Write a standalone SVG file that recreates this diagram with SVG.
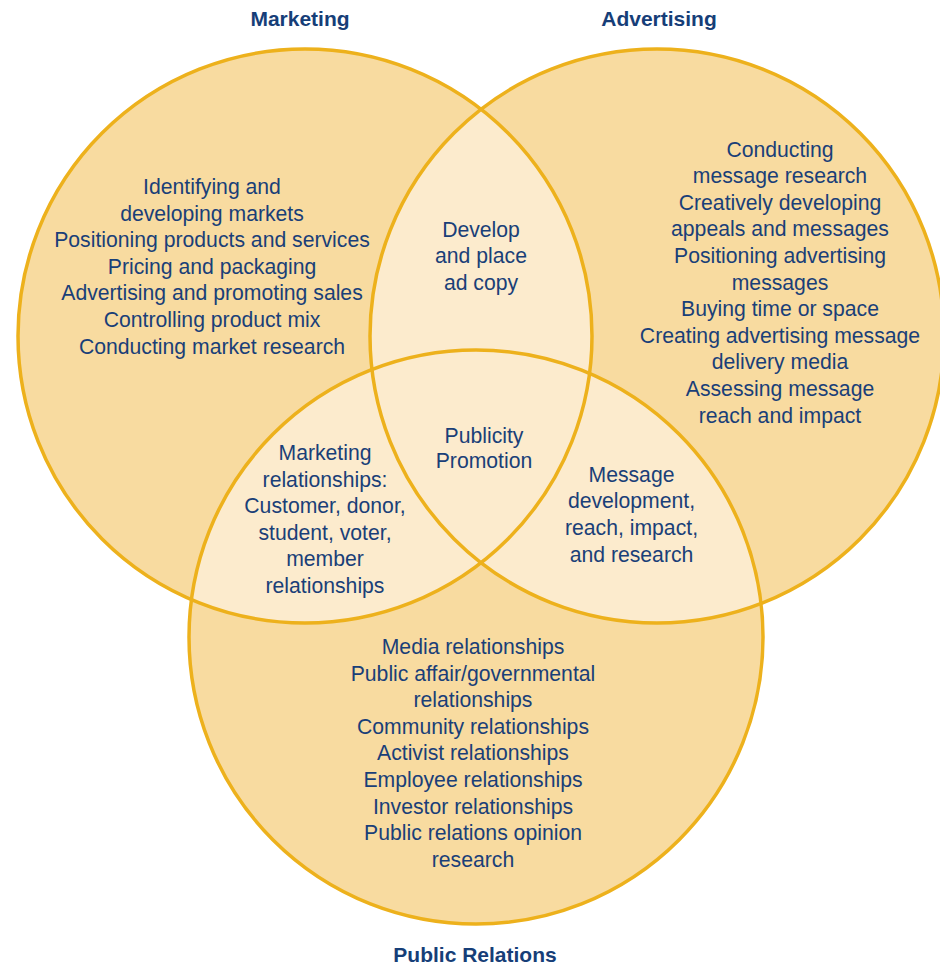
<svg xmlns="http://www.w3.org/2000/svg" width="940" height="965" viewBox="0 0 940 965">
<style>
.fill{fill:#F8DBA0;stroke:none}
.lite{fill:#FCEBCD;stroke:none}
.ring{fill:none;stroke:#EDB11C;stroke-width:3.5}
.t{font-family:"Liberation Sans",Arial,sans-serif;font-size:21.2px;fill:#1A3F78;text-anchor:middle}
.h{font-family:"Liberation Sans",Arial,sans-serif;font-size:21px;font-weight:bold;fill:#163E78;text-anchor:middle}
</style>
<defs>
<clipPath id="cM"><circle cx="305" cy="336" r="287"/></clipPath>
<clipPath id="cA"><circle cx="657" cy="336" r="287"/></clipPath>
<clipPath id="cP"><circle cx="476" cy="637" r="287"/></clipPath>
</defs>
<rect width="940" height="965" fill="#FFFFFF"/>
<g id="fills">
<circle class="fill" cx="305" cy="336" r="287"/>
<circle class="fill" cx="657" cy="336" r="287"/>
<circle class="fill" cx="476" cy="637" r="287"/>
<g clip-path="url(#cM)"><circle class="lite" cx="657" cy="336" r="287"/><circle class="lite" cx="476" cy="637" r="287"/></g>
<g clip-path="url(#cA)"><circle class="lite" cx="476" cy="637" r="287"/></g>
</g>
<g id="marketing">
<circle class="ring" cx="305" cy="336" r="287"/>
<text class="h" x="300" y="26">Marketing</text>
<text class="t" x="212" y="194">Identifying and</text>
<text class="t" x="212" y="220.6">developing markets</text>
<text class="t" x="212" y="247.2">Positioning products and services</text>
<text class="t" x="212" y="273.8">Pricing and packaging</text>
<text class="t" x="212" y="300.4">Advertising and promoting sales</text>
<text class="t" x="212" y="327">Controlling product mix</text>
<text class="t" x="212" y="353.6">Conducting market research</text>
</g>
<g id="advertising">
<circle class="ring" cx="657" cy="336" r="287"/>
<text class="h" x="659" y="26">Advertising</text>
<text class="t" x="780" y="156.5">Conducting</text>
<text class="t" x="780" y="183.1">message research</text>
<text class="t" x="780" y="209.7">Creatively developing</text>
<text class="t" x="780" y="236.3">appeals and messages</text>
<text class="t" x="780" y="262.9">Positioning advertising</text>
<text class="t" x="780" y="289.5">messages</text>
<text class="t" x="780" y="316.1">Buying time or space</text>
<text class="t" x="780" y="342.7">Creating advertising message</text>
<text class="t" x="780" y="369.3">delivery media</text>
<text class="t" x="780" y="395.9">Assessing message</text>
<text class="t" x="780" y="422.5">reach and impact</text>
</g>
<g id="public-relations">
<circle class="ring" cx="476" cy="637" r="287"/>
<text class="h" x="475" y="962">Public Relations</text>
<text class="t" x="473" y="654">Media relationships</text>
<text class="t" x="473" y="680.6">Public affair/governmental</text>
<text class="t" x="473" y="707.2">relationships</text>
<text class="t" x="473" y="733.8">Community relationships</text>
<text class="t" x="473" y="760.4">Activist relationships</text>
<text class="t" x="473" y="787">Employee relationships</text>
<text class="t" x="473" y="813.6">Investor relationships</text>
<text class="t" x="473" y="840.2">Public relations opinion</text>
<text class="t" x="473" y="866.8">research</text>
</g>
<g id="marketing-advertising">
<text class="t" x="481" y="236.7">Develop</text>
<text class="t" x="481" y="263.3">and place</text>
<text class="t" x="481" y="289.9">ad copy</text>
</g>
<g id="marketing-pr">
<text class="t" x="325" y="460">Marketing</text>
<text class="t" x="325" y="486.6">relationships:</text>
<text class="t" x="325" y="513.2">Customer, donor,</text>
<text class="t" x="325" y="539.8">student, voter,</text>
<text class="t" x="325" y="566.4">member</text>
<text class="t" x="325" y="593">relationships</text>
</g>
<g id="advertising-pr">
<text class="t" x="631.5" y="481.7">Message</text>
<text class="t" x="631.5" y="508.3">development,</text>
<text class="t" x="631.5" y="534.9">reach, impact,</text>
<text class="t" x="631.5" y="561.5">and research</text>
</g>
<g id="center">
<text class="t" x="484" y="442.7">Publicity</text>
<text class="t" x="484" y="468.3">Promotion</text>
</g>
<g id="connectors"/>
</svg>
